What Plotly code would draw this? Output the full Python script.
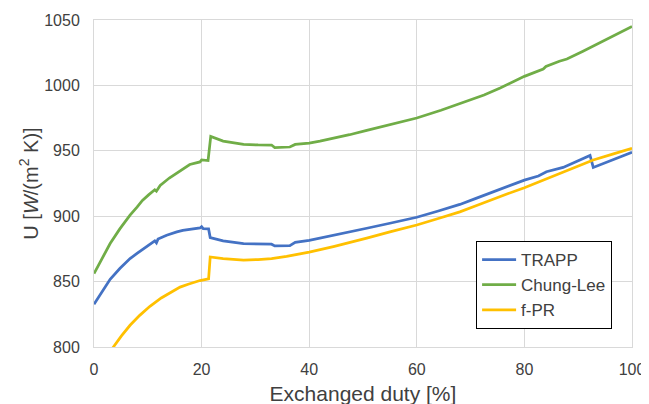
import plotly.graph_objects as go

# TRAPP
trapp_x = [0, 1.5, 3.0, 4.8, 6.7, 8.0, 9.0, 10.2, 11.3, 11.6, 11.9, 13.5, 14.4, 15.4, 16.5, 17.8, 19.0,
           19.7, 20.0, 20.3, 21.3, 21.6, 24.0, 27.8, 33.0, 33.6, 36.4, 37.4, 40.0, 44.5, 47.5, 50.7,
           55.0, 60.0, 64.0, 68.0, 71.0, 74.2, 77.0, 80.0, 82.6, 84.1, 87.2, 89.5, 91.9, 92.2, 92.8,
           96.4, 100.0]
trapp_y = [832.6, 842.5, 851.8, 860.0, 867.6, 871.5, 874.5, 878.0, 881.1, 879.6, 882.5, 885.5, 886.9, 888.0, 889.2, 890.0, 890.7,
           891.0, 892.0, 890.5, 890.3, 883.7, 881.1, 879.1, 878.6, 877.3, 877.5, 880.0, 881.5, 885.2, 887.8, 890.8,
           894.6, 899.2, 904.0, 909.0, 913.6, 918.7, 923.3, 927.6, 930.7, 934.0, 937.3, 941.6, 946.0, 946.5, 937.3,
           943.0, 948.8]

# Chung-Lee
chung_x = [0, 1.5, 3.0, 4.8, 6.7, 8.0, 9.0, 10.2, 11.3, 11.6, 12.3, 14.0, 15.7, 16.8, 17.8, 19.7, 20.0,
           21.2, 21.7, 24.0, 27.8, 30.5, 33.0, 33.6, 36.4, 37.4, 40.0, 42.0, 44.5, 47.5, 50.7, 55.0,
           60.0, 64.5, 69.3, 72.5, 75.5, 77.8, 80.0, 83.5, 84.0, 86.5, 87.9, 90.8, 94.0, 97.0, 100.0]
chung_y = [856.1, 867.8, 879.1, 890.3, 900.8, 907.0, 912.0, 916.5, 920.2, 919.1, 923.5, 929.2, 933.9, 937.0, 939.5, 941.5, 943.0,
           942.5, 961.0, 957.4, 954.9, 954.5, 954.4, 952.4, 952.9, 954.9, 955.9, 957.4, 959.5, 962.3, 965.6, 970.0,
           975.1, 981.0, 987.8, 992.6, 998.0, 1002.4, 1006.9, 1012.5, 1014.5, 1018.5, 1020.2, 1026.0, 1032.4, 1038.6, 1045.0]

# f-PR
fpr_x = [0, 2.0, 3.6, 5.1, 6.7, 8.5, 10.4, 12.5, 14.7, 16.0, 17.5, 19.7, 21.3, 21.6, 24.0, 27.8, 30.5,
         33.0, 35.8, 38.3, 40.0, 44.5, 47.5, 50.7, 55.0, 60.0, 64.0, 68.0, 71.0, 74.2, 77.0, 80.0,
         83.3, 86.6, 89.7, 92.8, 96.4, 100.0]
fpr_y = [779.0, 791.0, 800.0, 808.5, 816.6, 824.2, 831.1, 837.5, 843.1, 845.8, 848.0, 850.8, 852.1, 868.8, 867.6, 866.5, 866.8,
         867.6, 869.3, 871.3, 872.5, 876.8, 879.8, 883.2, 888.0, 893.3, 898.2, 903.3, 908.0, 913.1, 917.3, 921.7,
         927.2, 932.8, 938.0, 943.0, 947.5, 951.9]

x_ticks = [0, 20, 40, 60, 80, 100]
y_ticks = [800, 850, 900, 950, 1000, 1050]

series = [
    ("TRAPP", trapp_x, trapp_y, "#4472C4"),
    ("Chung-Lee", chung_x, chung_y, "#70AD47"),
    ("f-PR", fpr_x, fpr_y, "#FFC000"),
]

fig = go.Figure()
for i, (name, xs, ys, col) in enumerate(series):
    fig.add_trace(go.Scatter(x=xs, y=ys, mode="lines", name=name, legendgroup=f"g{i}",
                             line=dict(color=col, width=2.75)))

font = "Liberation Sans, Arial, sans-serif"
grid = "#d9d9d9"
fig.update_layout(
    width=649, height=404,
    margin=dict(l=86, r=25, t=12, b=65, autoexpand=False),
    paper_bgcolor="white", plot_bgcolor="white",
    font=dict(family=font, size=16, color="#404040"),
    legend=dict(x=0.963, y=0.055, xanchor="right", yanchor="bottom",
                bordercolor="black", borderwidth=1, bgcolor="white",
                font=dict(size=17, color="#404040"), tracegroupgap=0, itemwidth=34),
    xaxis=dict(range=[0, 100], tickvals=x_ticks, showgrid=True, gridcolor=grid, gridwidth=1,
               showline=True, linecolor=grid, mirror=True, zeroline=False, ticks="",
               automargin=False, ticklabelstandoff=8,
               title=dict(text="Exchanged duty [%]", font=dict(size=21), standoff=9),
               tickfont=dict(size=16)),
    yaxis=dict(range=[800, 1050], tickvals=y_ticks, showgrid=True, gridcolor=grid, gridwidth=1,
               showline=True, linecolor=grid, mirror=True, zeroline=False, ticks="",
               automargin=False, ticklabelstandoff=10,
               title=dict(text="U [<i>W</i>/(m<sup>2</sup> K)]", font=dict(size=20), standoff=0),
               tickfont=dict(size=16)),
)
fig.write_html("out.html")
